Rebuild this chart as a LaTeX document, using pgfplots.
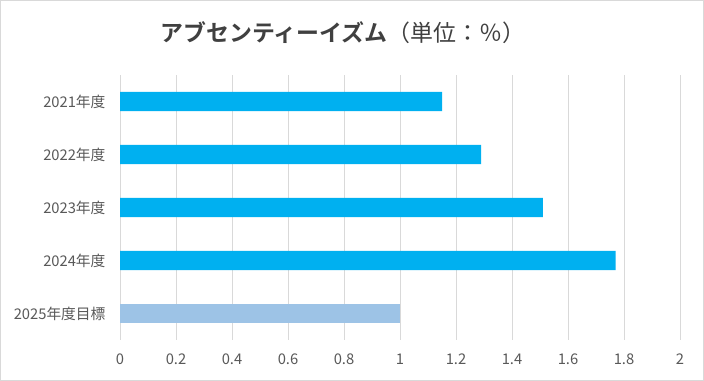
\documentclass[border=0pt]{standalone}
\usepackage{fontspec}
\setmainfont{Noto Sans CJK JP}[BoldFont={Noto Sans CJK JP Bold}]
\usepackage{pgfplots}
\pgfplotsset{compat=1.18}
\definecolor{barblue}{HTML}{00B0F0}
\definecolor{targetblue}{HTML}{9DC3E6}
\definecolor{gridgray}{HTML}{D9D9D9}
\definecolor{labelgray}{HTML}{595959}
\definecolor{titlegray}{HTML}{404040}
\begin{document}
\begin{tikzpicture}
\useasboundingbox (0,0) rectangle (704bp,381bp);
\fill[white] (0,0) rectangle (704bp,381bp);
\draw[gridgray, line width=1bp] (0.5bp,0.5bp) rectangle (703.5bp,380.5bp);
\node[text=titlegray, font=\fontsize{23}{26}\selectfont] at (343bp,348bp) {\textbf{アブセンティーイズム}（単位：％）};
\begin{axis}[
  at={(120bp,41bp)}, anchor=south west,
  scale only axis, width=560bp, height=265bp,
  xmin=0, xmax=2, ymin=-0.5, ymax=4.5,
  y dir=reverse,
  axis line style={draw=none},
  xtick={0,0.2,0.4,0.6,0.8,1,1.2,1.4,1.6,1.8,2},
  ytick={0,1,2,3,4},
  yticklabels={2021年度,2022年度,2023年度,2024年度,2025年度目標},
  xmajorgrids, grid style={gridgray, line width=1bp},
  major tick length=0pt,
  /pgf/number format/assume math mode=true,
  tick label style={text=labelgray, font=\fontsize{14.8}{17}\selectfont},
  xticklabel style={yshift=-10bp},
  yticklabel style={xshift=-11bp},
  xbar, bar width=0.36,
  clip=false,
]
\addplot[fill=barblue, draw=none, bar shift=0pt] coordinates {(1.15,0) (1.29,1) (1.51,2) (1.77,3)};
\addplot[fill=targetblue, draw=none, bar shift=0pt] coordinates {(1.0,4)};
\end{axis}
\end{tikzpicture}
\end{document}
